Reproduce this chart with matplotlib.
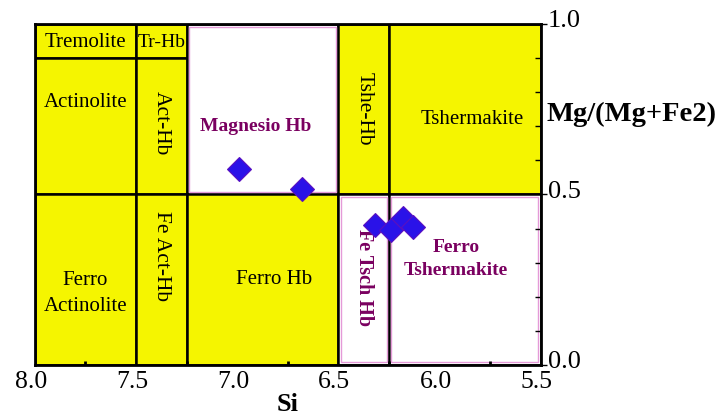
import matplotlib.pyplot as plt
import matplotlib.transforms as mtransforms
from matplotlib.patches import Rectangle
from matplotlib.ticker import MultipleLocator

# amphibole classification fields (Leake 1978), Si vs Mg/(Mg+Fe2)
field_names = ['Tremolite', 'Tr-Hb', 'Actinolite', 'Act-Hb', 'Magnesio Hb', 'Tshe-Hb', 'Tshermakite',
               'Ferro\nActinolite', 'Fe Act-Hb', 'Ferro Hb', 'Fe Tsch Hb', 'Ferro\nTshermakite']
field_si_hi = [8.0, 7.5, 8.0, 7.5, 7.25, 6.5, 6.25, 8.0, 7.5, 7.25, 6.5, 6.25]
field_si_lo = [7.5, 7.25, 7.5, 7.25, 6.5, 6.25, 5.5, 7.5, 7.25, 6.5, 6.25, 5.5]
field_mg_lo = [0.9, 0.9, 0.5, 0.5, 0.5, 0.5, 0.5, 0.0, 0.0, 0.0, 0.0, 0.0]
field_mg_hi = [1.0, 1.0, 0.9, 0.9, 1.0, 1.0, 1.0, 0.5, 0.5, 0.5, 0.5, 0.5]
field_filled = [True, True, True, True, False, True, True, True, True, True, False, False]

# samples
si = [6.99, 6.68, 6.32, 6.24, 6.18, 6.13]
mg = [0.575, 0.515, 0.41, 0.395, 0.43, 0.405]

# label spots
label_si = [7.75, 7.375, 7.75, 7.375, 6.91, 6.375, 5.84, 7.75, 7.375, 6.82, 6.375, 5.92]
label_mg = [0.945, 0.945, 0.77, 0.71, 0.70, 0.75, 0.72, 0.21, 0.32, 0.25, 0.255, 0.31]
label_rot = [0, 0, 0, -90, 0, -90, 0, 0, -90, 0, -90, 0]

plt.rcParams['font.family'] = 'Liberation Serif'

fig = plt.figure(figsize=(7.25, 4.19), dpi=100)
ax = fig.add_axes([0.048, 0.129, 0.698, 0.814])

yellow = '#f5f500'
magenta = '#7a0060'

for i in range(len(field_names)):
    w = field_si_lo[i] - field_si_hi[i]
    h = field_mg_hi[i] - field_mg_lo[i]
    if field_filled[i]:
        ax.add_patch(Rectangle((field_si_hi[i], field_mg_lo[i]), w, h,
                               facecolor=yellow, edgecolor='black', lw=1.8, zorder=1))
        col = 'black'
        weight = 'normal'
        fs = 15 if label_rot[i] == 0 else 15.5
        if field_names[i] == 'Tr-Hb':
            fs = 14
    else:
        ax.add_patch(Rectangle((field_si_hi[i], field_mg_lo[i]), w, h,
                               facecolor='white', edgecolor='black', lw=1.8, zorder=1))
        ax.add_patch(Rectangle((field_si_hi[i] - 0.012, field_mg_lo[i] + 0.008), w + 0.024, h - 0.016,
                               facecolor='none', edgecolor='#e59ad8', lw=1.0, zorder=1.5))
        col = magenta
        weight = 'bold'
        fs = 14 if label_rot[i] == 0 else 14.5
    ax.text(label_si[i], label_mg[i], field_names[i], rotation=label_rot[i], color=col,
            fontweight=weight, fontsize=fs, ha='center', va='center', linespacing=1.5, zorder=2)

ax.plot(si, mg, 'D', color='#2a12e8', markeredgecolor='#5a10c0', markeredgewidth=0.8,
        markersize=12, zorder=3)

ax.set_xlim(8.0, 5.5)
ax.set_ylim(0, 1)
ax.xaxis.set_major_locator(MultipleLocator(0.5))
ax.xaxis.set_minor_locator(MultipleLocator(0.25))
ax.yaxis.set_major_locator(MultipleLocator(0.5))
ax.yaxis.set_minor_locator(MultipleLocator(0.1))
ax.xaxis.set_major_formatter(lambda v, p: f'{v:.1f}')
ax.yaxis.set_major_formatter(lambda v, p: f'{v:.1f}')
ax.yaxis.tick_right()
ax.tick_params(axis='x', which='major', length=0, labelsize=18.5, pad=4)
ax.tick_params(axis='x', which='minor', direction='in', length=3, width=2)
ax.tick_params(axis='y', which='major', direction='out', length=4, width=1, labelsize=19, pad=1)
ax.tick_params(axis='y', which='minor', direction='in', length=4, width=1)
for s in ax.spines.values():
    s.set_linewidth(2)
    s.set_zorder(4)

# nudge tick labels like the original: x labels a bit left, y labels a bit up
left_shift = mtransforms.ScaledTranslation(-4 / 100, 0, fig.dpi_scale_trans)
up_shift = mtransforms.ScaledTranslation(0, 5 / 100, fig.dpi_scale_trans)
for lab in ax.get_xticklabels():
    lab.set_transform(lab.get_transform() + left_shift)
for lab in ax.get_yticklabels():
    lab.set_transform(lab.get_transform() + up_shift)

ax.set_xlabel('Si', fontsize=19, fontweight='bold', labelpad=0)
ax.text(1.012, 0.735, 'Mg/(Mg+Fe2)', transform=ax.transAxes, fontsize=20.5,
        fontweight='bold', ha='left', va='center')

fig.savefig('out.png', dpi=100)
